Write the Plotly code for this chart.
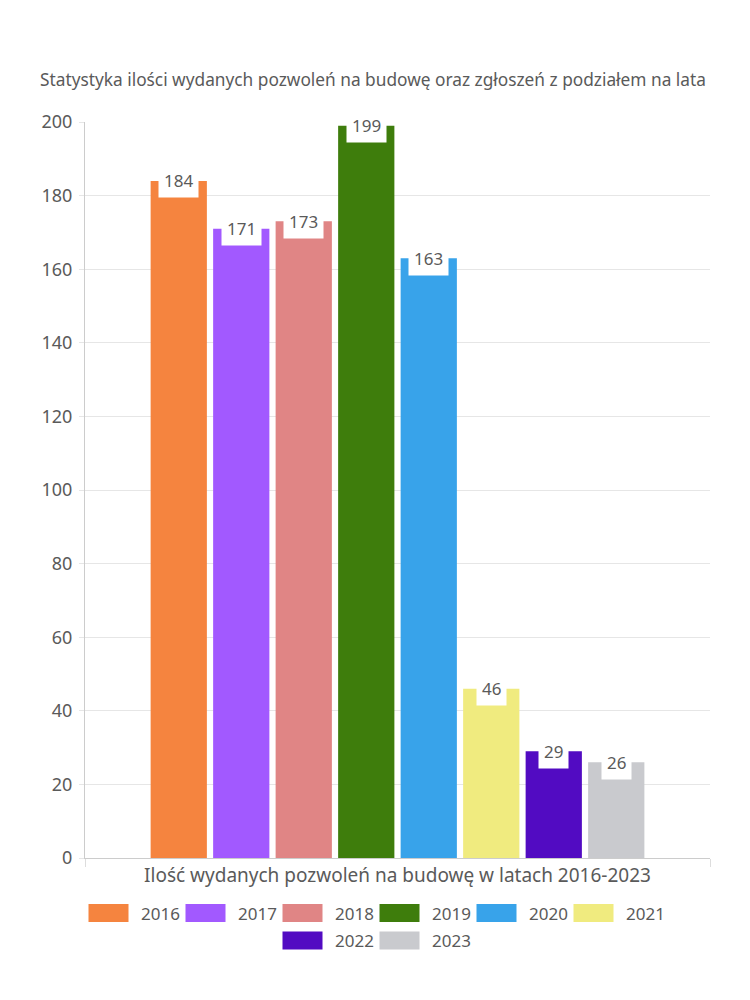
import plotly.graph_objects as go

years = ["2016", "2017", "2018", "2019", "2020", "2021", "2022", "2023"]
values = [184, 171, 173, 199, 163, 46, 29, 26]
colors = ["#F5843F", "#A259FF", "#E08585", "#3E7D0C", "#38A3EA", "#F0EB7F", "#520BC2", "#C9CACE"]
category = "Ilość wydanych pozwoleń na budowę w latach 2016-2023"
title = "Statystyka ilości wydanych pozwoleń na budowę oraz zgłoszeń z podziałem na lata"

FONT = "Noto Sans"
GREY = "#5a5a5a"
bargap = 0.2

W, H = 750, 1000
L, R, T, B = 77, 48, 114, 150
PW, PH = W - L - R, H - T - B
OFF = 8  # page body margin


def px_x(sx):
    return (sx - OFF - L) / PW


def px_y(sy):
    return (H - B - (sy - OFF)) / PH


fig = go.Figure()
for y, v, c in zip(years, values, colors):
    fig.add_trace(go.Bar(x=[category], y=[v], name=y, marker=dict(color=c, line=dict(width=0))))

# value labels in white boxes at the top of each bar
n = len(years)
slot = (1 - bargap) / n
for i, v in enumerate(values):
    xc = -0.5 * (1 - bargap) + (i + 0.5) * slot
    fig.add_annotation(x=xc, y=v, xref="x", yref="y", text=str(v), showarrow=False,
                       bgcolor="white", borderpad=5, yanchor="middle", yshift=0,
                       font=dict(family=FONT, size=17, color=GREY))

# legend drawn below the plot: two centred rows
rows = [list(range(0, 6)), list(range(6, n))]
row_centers = [913, 940.5]
pitch, sw_w, sw_h, txt_gap, txt_w = 97, 40, 18, 10, 38
for r, idxs in enumerate(rows):
    row_w = (len(idxs) - 1) * pitch + sw_w + txt_gap + txt_w
    start = 375 - row_w / 2
    cy = row_centers[r]
    for k, i in enumerate(idxs):
        x0 = start + k * pitch
        fig.add_shape(type="rect", xref="paper", yref="paper",
                      x0=px_x(x0), x1=px_x(x0 + sw_w),
                      y0=px_y(cy - sw_h / 2), y1=px_y(cy + sw_h / 2),
                      fillcolor=colors[i], line=dict(width=0))
        fig.add_annotation(xref="paper", yref="paper", x=px_x(x0 + sw_w + txt_gap), y=px_y(cy),
                           xanchor="left", yanchor="middle", showarrow=False, text=years[i],
                           font=dict(family=FONT, size=17, color=GREY))

fig.update_layout(
    width=W, height=H,
    paper_bgcolor="white", plot_bgcolor="white",
    margin=dict(l=L, r=R, t=T, b=B),
    barmode="group", bargap=bargap, bargroupgap=0.1,
    font=dict(family=FONT, color=GREY),
    title=dict(text=title, x=(40 - OFF) / W, xanchor="left", y=1 - (80 - OFF) / H, yanchor="middle",
               font=dict(family=FONT, size=17.3, color=GREY)),
    showlegend=False,
)
fig.update_xaxes(type="category", tickson="boundaries", ticks="outside", ticklen=8,
                 tickcolor="#dddddd", showgrid=True, gridcolor="#e6e6e6",
                 showline=True, linecolor="#cccccc",
                 tickfont=dict(family=FONT, size=19, color=GREY))
fig.update_yaxes(range=[0, 200], dtick=20, showgrid=True, gridcolor="#e6e6e6",
                 ticks="outside", ticklen=5, tickcolor="#e6e6e6", ticklabelstandoff=3,
                 showline=True, linecolor="#cccccc", zeroline=False,
                 tickfont=dict(family=FONT, size=18, color=GREY))

fig.write_html("out.html")
